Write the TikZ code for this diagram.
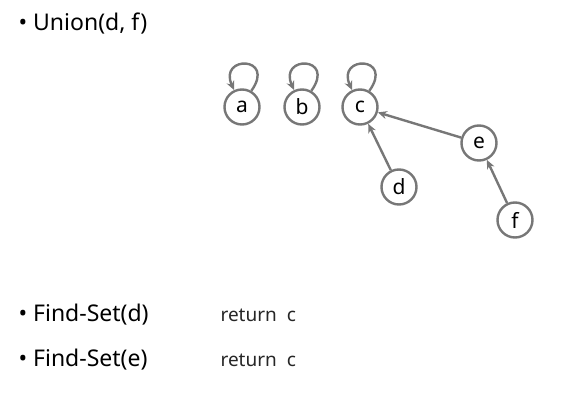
\documentclass[tikz,border=0pt]{standalone}
\usepackage{fontspec}
\setmainfont{Noto Sans}
\usetikzlibrary{arrows.meta}
\definecolor{edgegray}{HTML}{777777}
\begin{document}
\begin{tikzpicture}[x=1pt,y=-1pt,
  vert/.style={circle,draw=edgegray,line width=2.4pt,minimum size=35pt,inner sep=0pt,font=\fontsize{21}{21}\selectfont},
  link/.style={draw=edgegray,line width=2.4pt,-{Stealth[length=9pt,width=8pt]}},
  bullet/.style={anchor=base west,font=\fontsize{23}{26}\selectfont},
  answer/.style={anchor=base west,font=\fontsize{19}{22}\selectfont,text=black!85}]
\useasboundingbox (0,0) rectangle (571,412);
% heading
\node[bullet] (t1) at (15,31) {\textbullet\ Union(d, f)};
% the forest after the union
\node[vert] (a) at (242,107) {a};
\node[vert] (b) at (302,107) {b};
\node[vert] (c) at (360,107) {c};
\node[vert] (e) at (479,143) {e};
\node[vert] (d) at (399,187) {d};
\node[vert] (f) at (515,220) {f};
% roots point to themselves
\foreach \r in {a,b,c}
  \draw[link] (\r.60) .. controls +(25,-35) and +(-16,-35) .. (\r.115);
% parent pointers
\draw[link] (d) -- (c);
\draw[link] (e) -- (c);
\draw[link] (f) -- (e);
% queries
\node[bullet] (q1) at (15,321) {\textbullet\ Find-Set(d)};
\node[answer] (r1) at (217,321) {return\ \ c};
\node[bullet] (q2) at (15,366) {\textbullet\ Find-Set(e)};
\node[answer] (r2) at (217,366) {return\ \ c};
\end{tikzpicture}
\end{document}
